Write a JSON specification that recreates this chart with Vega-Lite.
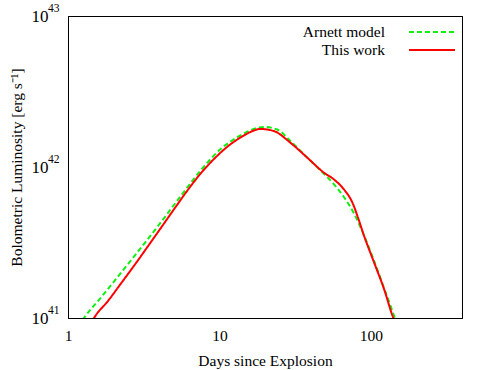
{
  "$schema": "https://vega.github.io/schema/vega-lite/v6.json",
  "width": 394,
  "height": 302,
  "autosize": {"type": "none"},
  "padding": {"left": 68, "top": 16, "right": 29, "bottom": 52},
  "background": "white",
  "config": {
    "font": "Liberation Serif",
    "view": {"stroke": "black", "strokeWidth": 1},
    "axis": {"grid": false, "domainColor": "black", "tickColor": "black", "labelColor": "black", "titleColor": "black", "labelFont": "Liberation Serif", "titleFont": "Liberation Serif", "labelFontSize": 15.5, "titleFontSize": 15.5, "titleFontWeight": "normal", "tickSize": 0}
  },
  "datasets": {
    "curves": [
      {"series": "Arnett model", "day": 1.25, "lum": 0.97e41},
      {"series": "Arnett model", "day": 1.276, "lum": 1.0e41},
      {"series": "Arnett model", "day": 1.663, "lum": 1.38e41},
      {"series": "Arnett model", "day": 2.254, "lum": 2.009e41},
      {"series": "Arnett model", "day": 3.062, "lum": 2.951e41},
      {"series": "Arnett model", "day": 4.15, "lum": 4.365e41},
      {"series": "Arnett model", "day": 5.623, "lum": 6.531e41},
      {"series": "Arnett model", "day": 7.638, "lum": 9.661e41},
      {"series": "Arnett model", "day": 10.35, "lum": 1.334e42},
      {"series": "Arnett model", "day": 13.03, "lum": 1.567e42},
      {"series": "Arnett model", "day": 16.0, "lum": 1.75e42},
      {"series": "Arnett model", "day": 19.68, "lum": 1.841e42},
      {"series": "Arnett model", "day": 24.1, "lum": 1.77e42},
      {"series": "Arnett model", "day": 29.51, "lum": 1.483e42},
      {"series": "Arnett model", "day": 38.11, "lum": 1.151e42},
      {"series": "Arnett model", "day": 47.86, "lum": 9.226e41},
      {"series": "Arnett model", "day": 57.15, "lum": 7.674e41},
      {"series": "Arnett model", "day": 66.53, "lum": 6.31e41},
      {"series": "Arnett model", "day": 77.62, "lum": 4.898e41},
      {"series": "Arnett model", "day": 90.36, "lum": 3.508e41},
      {"series": "Arnett model", "day": 105.2, "lum": 2.382e41},
      {"series": "Arnett model", "day": 122.5, "lum": 1.57e41},
      {"series": "Arnett model", "day": 142.6, "lum": 1.028e41},
      {"series": "Arnett model", "day": 144.5, "lum": 0.989e41},
      {"series": "This work", "day": 1.46, "lum": 0.97e41},
      {"series": "This work", "day": 1.486, "lum": 1.0e41},
      {"series": "This work", "day": 1.841, "lum": 1.3e41},
      {"series": "This work", "day": 2.254, "lum": 1.71e41},
      {"series": "This work", "day": 2.767, "lum": 2.26e41},
      {"series": "This work", "day": 3.388, "lum": 3.006e41},
      {"series": "This work", "day": 4.15, "lum": 4.009e41},
      {"series": "This work", "day": 5.093, "lum": 5.37e41},
      {"series": "This work", "day": 6.237, "lum": 7.129e41},
      {"series": "This work", "day": 7.638, "lum": 9.226e41},
      {"series": "This work", "day": 9.354, "lum": 1.148e42},
      {"series": "This work", "day": 11.46, "lum": 1.38e42},
      {"series": "This work", "day": 14.03, "lum": 1.585e42},
      {"series": "This work", "day": 16.03, "lum": 1.706e42},
      {"series": "This work", "day": 18.71, "lum": 1.786e42},
      {"series": "This work", "day": 22.91, "lum": 1.73e42},
      {"series": "This work", "day": 29.51, "lum": 1.445e42},
      {"series": "This work", "day": 38.11, "lum": 1.151e42},
      {"series": "This work", "day": 49.09, "lum": 9.162e41},
      {"series": "This work", "day": 57.15, "lum": 8.26e41},
      {"series": "This work", "day": 66.53, "lum": 7.096e41},
      {"series": "This work", "day": 75.68, "lum": 5.794e41},
      {"series": "This work", "day": 81.66, "lum": 4.721e41},
      {"series": "This work", "day": 90.36, "lum": 3.483e41},
      {"series": "This work", "day": 105.2, "lum": 2.323e41},
      {"series": "This work", "day": 122.5, "lum": 1.545e41},
      {"series": "This work", "day": 139.3, "lum": 1.028e41},
      {"series": "This work", "day": 141.3, "lum": 0.989e41}
    ],
    "exponents": [
      {"val": 1e41, "exp": "41"},
      {"val": 1e42, "exp": "42"},
      {"val": 1e43, "exp": "43"}
    ]
  },
  "data": {"name": "curves"},
  "resolve": {"axis": {"x": "independent", "y": "independent"}},
  "layer": [
    {
      "transform": [{"filter": "datum.series == 'Arnett model'"}],
      "mark": {"type": "line", "strokeWidth": 2, "interpolate": "monotone", "clip": true},
      "encoding": {
        "x": {"field": "day", "type": "quantitative",
          "scale": {"type": "log", "domain": [1, 400], "nice": false},
          "axis": {"orient": "bottom", "title": "Days since Explosion", "titlePadding": 10,
            "values": [1,2,3,4,5,6,7,8,9,10,20,30,40,50,60,70,80,90,100,200,300,400],
            "labelExpr": "datum.value == 1 || datum.value == 10 || datum.value == 100 ? datum.label : ''",
            "encode": {"ticks": {"update": {"y2": {"signal": "(datum.value == 1 || datum.value == 10 || datum.value == 100) ? -7 : -4"}}}},
            "labelPadding": 10, "labelFlush": false, "labelOverlap": false}},
        "y": {"field": "lum", "type": "quantitative",
          "scale": {"type": "log", "domain": [1e41, 1e43], "nice": false},
          "axis": {"orient": "left", "title": "Bolometric Luminosity [erg s⁻¹]", "titlePadding": 7,
            "values": [1e41,2e41,3e41,4e41,5e41,6e41,7e41,8e41,9e41,1e42,2e42,3e42,4e42,5e42,6e42,7e42,8e42,9e42,1e43],
            "labelExpr": "(datum.value == 1e41 || datum.value == 1e42 || datum.value == 1e43) ? '10' : ''",
            "labelFontSize": 17,
            "encode": {"ticks": {"update": {"x2": {"signal": "(datum.value == 1e41 || datum.value == 1e42 || datum.value == 1e43) ? 7 : 4"}}}},
            "labelPadding": 20, "labelFlush": false, "labelOverlap": false}},
        "color": {"field": "series", "type": "nominal",
          "scale": {"domain": ["Arnett model", "This work"], "range": ["#11ee11", "#ff0000"]},
          "legend": {"title": null, "orient": "none", "legendX": 355, "legendY": 7, "symbolType": "M-2.875,0L2.875,0", "symbolSize": 256, "symbolStrokeWidth": 2, "labelAlign": "right", "labelOffset": -56, "labelFontSize": 15.5, "labelFont": "Liberation Serif", "labelColor": "black", "rowPadding": 0}},
        "strokeDash": {"field": "series", "type": "nominal",
          "scale": {"domain": ["Arnett model", "This work"], "range": [[5, 3], [1, 0]]},
          "legend": {"title": null, "orient": "none", "legendX": 355, "legendY": 7, "symbolType": "M-2.875,0L2.875,0", "symbolSize": 256, "symbolStrokeWidth": 2, "labelAlign": "right", "labelOffset": -56, "labelFontSize": 15.5, "labelFont": "Liberation Serif", "labelColor": "black", "rowPadding": 0}}
      }
    },
    {
      "transform": [{"filter": "datum.series == 'This work'"}],
      "mark": {"type": "line", "strokeWidth": 2, "interpolate": "monotone", "clip": true},
      "encoding": {
        "x": {"field": "day", "type": "quantitative",
          "axis": {"orient": "top", "title": null, "labels": false,
            "values": [1,2,3,4,5,6,7,8,9,10,20,30,40,50,60,70,80,90,100,200,300,400],
            "encode": {"ticks": {"update": {"y2": {"signal": "(datum.value == 1 || datum.value == 10 || datum.value == 100) ? 7 : 4"}}}}}},
        "y": {"field": "lum", "type": "quantitative",
          "axis": {"orient": "right", "title": null, "labels": false,
            "values": [1e41,2e41,3e41,4e41,5e41,6e41,7e41,8e41,9e41,1e42,2e42,3e42,4e42,5e42,6e42,7e42,8e42,9e42,1e43],
            "encode": {"ticks": {"update": {"x2": {"signal": "(datum.value == 1e41 || datum.value == 1e42 || datum.value == 1e43) ? -7 : -4"}}}}}},
        "color": {"field": "series", "type": "nominal"},
        "strokeDash": {"field": "series", "type": "nominal"}
      }
    },
    {
      "data": {"name": "exponents"},
      "mark": {"type": "text", "align": "left", "baseline": "middle", "dx": -20, "dy": -7, "fontSize": 11.5, "font": "Liberation Serif", "color": "black", "clip": false},
      "encoding": {
        "x": {"datum": 1, "type": "quantitative", "axis": null},
        "y": {"field": "val", "type": "quantitative", "axis": null},
        "text": {"field": "exp"}
      }
    }
  ]
}
